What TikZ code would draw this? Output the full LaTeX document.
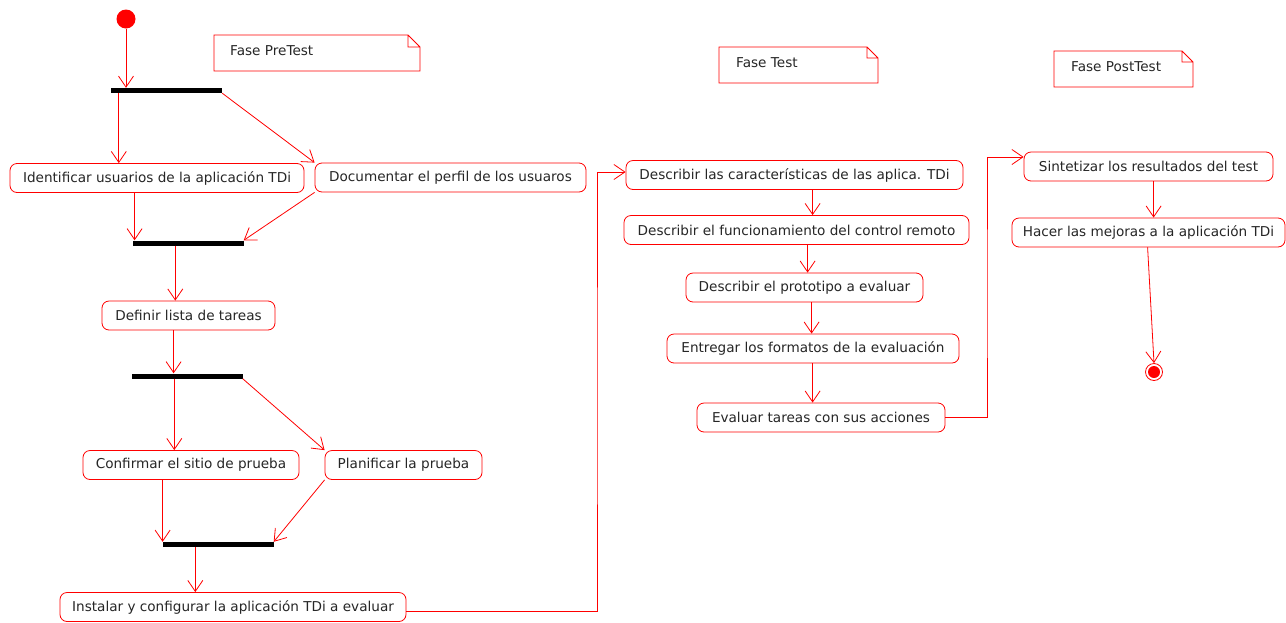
\documentclass[tikz,border=0pt]{standalone}
\usepackage{fontspec}
\setmainfont{DejaVu Sans}
\usetikzlibrary{arrows.meta}
\begin{document}
\begin{tikzpicture}[x=1pt,y=-1pt,
  txt/.style={text=black!85, font=\fontsize{13.6}{16}\selectfont},
  act/.style={txt, draw=red, line width=0.8pt, rounded corners=7pt, fill=white, minimum height=29pt, inner sep=0pt},
  bar/.style={fill=black, minimum height=5pt, minimum width=111pt, inner sep=0pt},
  flow/.style={draw=red, line width=0.8pt, -{Straight Barb[length=11pt,width=15pt]}},
  notebox/.style={draw=red, line width=0.8pt}
]
\useasboundingbox (0,0) rectangle (1286,622);

% start and end
\node[circle, fill=red, minimum size=19pt, inner sep=0pt] (init) at (126,19) {};
\node[circle, draw=red, line width=0.8pt, minimum size=17pt, inner sep=0pt] (final) at (1154,372) {};
\fill[red] (final.center) circle (6pt);

% notes
\draw[notebox] (214,35) -- (408,35) -- (420,47) -- (420,71) -- (214,71) -- cycle (408,35) -- (408,47) -- (420,47);
\node[txt, anchor=west, inner sep=0pt] (n1) at (230,51) {Fase PreTest};
\draw[notebox] (719,47) -- (867,47) -- (878,58) -- (878,83) -- (719,83) -- cycle (867,47) -- (867,58) -- (878,58);
\node[txt, anchor=west, inner sep=0pt] (n2) at (736,63) {Fase Test};
\draw[notebox] (1054,51) -- (1182,51) -- (1193,62) -- (1193,87) -- (1054,87) -- cycle (1182,51) -- (1182,62) -- (1193,62);
\node[txt, anchor=west, inner sep=0pt] (n3) at (1071,67) {Fase PostTest};

% bars
\node[bar] (fork1) at (166.5,90.5) {};
\node[bar] (join1) at (188,243) {};
\node[bar] (fork2) at (187,376) {};
\node[bar] (join2) at (218,544.5) {};

% activities
\node[act, minimum width=294pt] (ident) at (157,178) {Identificar usuarios de la aplicación TDi};
\node[act, minimum width=271pt] (docu) at (450.5,177.5) {Documentar el perfil de los usuaros};
\node[act, minimum width=173pt] (defin) at (188.5,315.5) {Definir lista de tareas};
\node[act, minimum width=216pt] (confi) at (191,465) {Confirmar el sitio de prueba};
\node[act, minimum width=157pt] (plani) at (403.5,465) {Planificar la prueba};
\node[act, minimum width=346pt] (insta) at (233,607) {Instalar y configurar la aplicación TDi a evaluar};
\node[act, minimum width=337pt] (carac) at (794.5,175) {Describir las características de las aplica. TDi};
\node[act, minimum width=345pt] (funci) at (796.5,230) {Describir el funcionamiento del control remoto};
\node[act, minimum width=237pt] (proto) at (804.5,287.5) {Describir el prototipo a evaluar};
\node[act, minimum width=292pt] (entre) at (813,348.5) {Entregar los formatos de la evaluación};
\node[act, minimum width=248pt] (evalu) at (821,417.5) {Evaluar tareas con sus acciones};
\node[act, minimum width=249pt] (sinte) at (1148.5,166.5) {Sintetizar los resultados del test};
\node[act, minimum width=273pt] (hacer) at (1148.5,232.5) {Hacer las mejoras a la aplicación TDi};

\coordinate (b1) at (597,400);
\coordinate (b2) at (987,300);

% connectors
\draw[flow] (init.south) -- (init |- fork1.north);
\draw[flow] ([xshift=8pt]fork1.south west) -- ([xshift=8pt]fork1.south west |- ident.north);
\draw[flow] (fork1.south east) -- (docu.north west);
\draw[flow] ([xshift=125pt]ident.south west) -- ([xshift=125pt]ident.south west |- join1.north);
\draw[flow] (docu.south west) -- (join1.north east);
\draw[flow] ([xshift=43pt]join1.south west) -- ([xshift=43pt]join1.south west |- defin.north);
\draw[flow] ([xshift=72pt]defin.south west) -- ([xshift=72pt]defin.south west |- fork2.north);
\draw[flow] ([xshift=43pt]fork2.south west) -- ([xshift=43pt]fork2.south west |- confi.north);
\draw[flow] (fork2.south east) -- (plani.north west);
\draw[flow] ([xshift=80pt]confi.south west) -- ([xshift=80pt]confi.south west |- join2.north);
\draw[flow] (plani.south west) -- (join2.north east);
\draw[flow] ([xshift=33pt]join2.south west) -- ([xshift=33pt]join2.south west |- insta.north);
\draw[flow] ([yshift=-4pt]insta.east) -| (b1) |- ([yshift=3pt]carac.west);
\draw[flow] ([xshift=187pt]carac.south west) -- ([xshift=187pt]carac.south west |- funci.north);
\draw[flow] ([xshift=184pt]funci.south west) -- ([xshift=184pt]funci.south west |- proto.north);
\draw[flow] ([xshift=126pt]proto.south west) -- ([xshift=126pt]proto.south west |- entre.north);
\draw[flow] ([xshift=146pt]entre.south west) -- ([xshift=146pt]entre.south west |- evalu.north);
\draw[flow] (evalu.east) -| (b2) |- ([yshift=9.5pt]sinte.west);
\draw[flow] ([xshift=130pt]sinte.south west) -- ([xshift=130pt]sinte.south west |- hacer.north);
\draw[flow] ([xshift=136pt]hacer.south west) -- (final.north);
\end{tikzpicture}
\end{document}
